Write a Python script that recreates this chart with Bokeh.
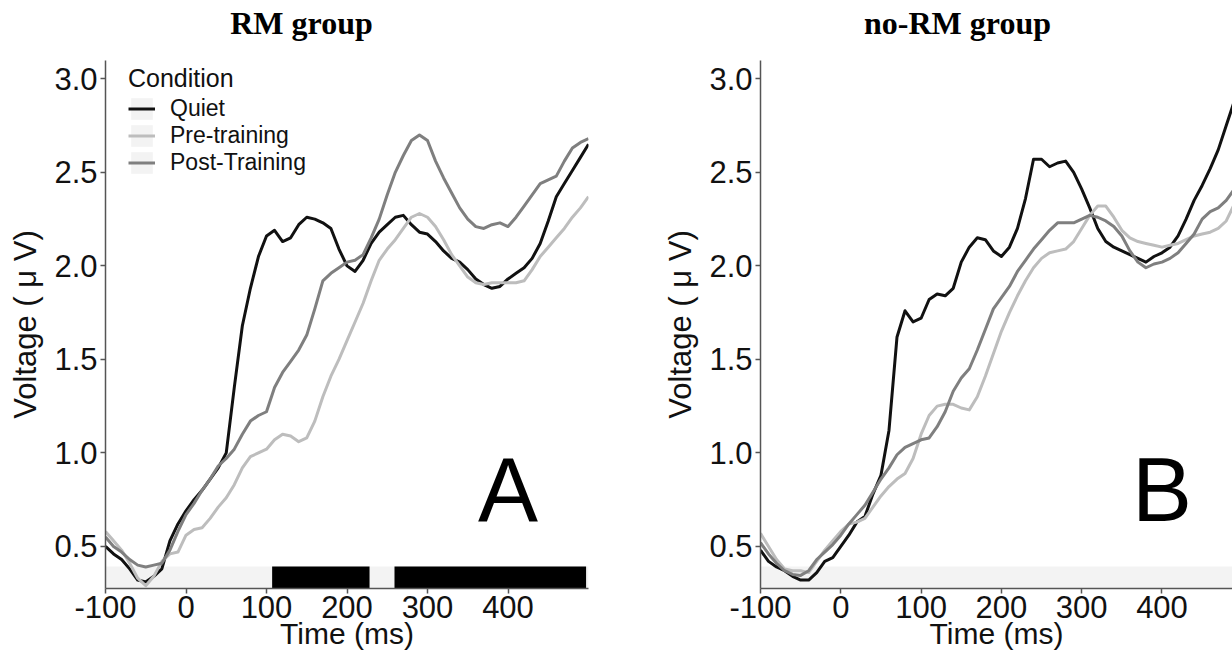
from bokeh.plotting import figure
from bokeh.models import Range1d, FixedTicker, PrintfTickFormatter, Legend, LegendItem
from bokeh.layouts import row, column
from bokeh.embed import file_html
from bokeh.resources import INLINE
from bokeh.core.properties import value

# ---------------- data ----------------
conditions = ["Quiet", "Pre-training", "Post-Training"]
panel_titles = ["RM group", "no-RM group"]
x_ticks = [-100, 0, 100, 200, 300, 400]
y_ticks = [0.5, 1.0, 1.5, 2.0, 2.5, 3.0]

# RM group (panel A), time -100..500 ms every 10 ms
time_rm = list(range(-100, 501, 10))
rm_quiet = [0.50, 0.46, 0.43, 0.38, 0.32, 0.31, 0.34, 0.38, 0.53, 0.62,
            0.69, 0.75, 0.80, 0.86, 0.92, 1.00, 1.35, 1.68, 1.88, 2.05,
            2.16, 2.19, 2.13, 2.15, 2.22, 2.26, 2.25, 2.23, 2.20, 2.09,
            2.00, 1.97, 2.03, 2.12, 2.18, 2.22, 2.26, 2.27, 2.22, 2.18,
            2.17, 2.13, 2.08, 2.04, 2.02, 1.98, 1.93, 1.90, 1.88, 1.89,
            1.93, 1.96, 1.99, 2.04, 2.12, 2.24, 2.37, 2.44, 2.51, 2.58,
            2.65]
rm_pre = [0.58, 0.53, 0.48, 0.41, 0.33, 0.29, 0.34, 0.42, 0.46, 0.47,
          0.56, 0.59, 0.60, 0.65, 0.71, 0.76, 0.83, 0.92, 0.98, 1.00,
          1.02, 1.07, 1.10, 1.09, 1.06, 1.08, 1.17, 1.30, 1.41, 1.50,
          1.60, 1.70, 1.80, 1.92, 2.03, 2.09, 2.14, 2.20, 2.26, 2.28,
          2.26, 2.21, 2.14, 2.06, 2.00, 1.94, 1.91, 1.90, 1.91, 1.91,
          1.91, 1.91, 1.92, 1.98, 2.05, 2.10, 2.15, 2.20, 2.26, 2.31,
          2.37]
rm_post = [0.55, 0.50, 0.47, 0.43, 0.40, 0.39, 0.40, 0.41, 0.48, 0.58,
           0.67, 0.73, 0.80, 0.86, 0.93, 0.97, 1.02, 1.10, 1.17, 1.20,
           1.22, 1.35, 1.43, 1.49, 1.55, 1.63, 1.77, 1.92, 1.96, 1.99,
           2.02, 2.03, 2.06, 2.15, 2.25, 2.38, 2.50, 2.59, 2.67, 2.70,
           2.67, 2.56, 2.47, 2.39, 2.31, 2.25, 2.21, 2.20, 2.22, 2.23,
           2.21, 2.26, 2.32, 2.38, 2.44, 2.46, 2.48, 2.56, 2.63, 2.66,
           2.68]

# no-RM group (panel B), time -100..490 ms every 10 ms
time_norm = list(range(-100, 491, 10))
norm_quiet = [0.48, 0.42, 0.39, 0.37, 0.34, 0.32, 0.32, 0.36, 0.42, 0.44,
              0.50, 0.56, 0.63, 0.66, 0.78, 0.88, 1.12, 1.62, 1.76, 1.70,
              1.72, 1.82, 1.85, 1.84, 1.88, 2.02, 2.10, 2.15, 2.14, 2.08,
              2.05, 2.10, 2.20, 2.36, 2.57, 2.57, 2.53, 2.55, 2.56, 2.50,
              2.41, 2.31, 2.20, 2.13, 2.10, 2.08, 2.06, 2.04, 2.02, 2.05,
              2.07, 2.10, 2.16, 2.25, 2.35, 2.43, 2.52, 2.62, 2.75, 2.88]
norm_pre = [0.57, 0.50, 0.43, 0.38, 0.37, 0.37, 0.36, 0.42, 0.48, 0.53,
            0.58, 0.62, 0.63, 0.65, 0.71, 0.77, 0.82, 0.86, 0.89, 0.97,
            1.10, 1.20, 1.25, 1.26, 1.26, 1.24, 1.23, 1.30, 1.41, 1.53,
            1.65, 1.75, 1.84, 1.92, 1.99, 2.04, 2.07, 2.08, 2.09, 2.13,
            2.20, 2.27, 2.32, 2.32, 2.26, 2.19, 2.15, 2.13, 2.12, 2.11,
            2.10, 2.11, 2.12, 2.14, 2.16, 2.17, 2.18, 2.20, 2.24, 2.33]
norm_post = [0.52, 0.46, 0.41, 0.37, 0.35, 0.345, 0.37, 0.43, 0.47, 0.51,
             0.56, 0.62, 0.67, 0.72, 0.79, 0.86, 0.92, 0.99, 1.03, 1.05,
             1.07, 1.08, 1.14, 1.22, 1.33, 1.40, 1.45, 1.55, 1.66, 1.77,
             1.83, 1.89, 1.97, 2.03, 2.09, 2.14, 2.19, 2.23, 2.23, 2.23,
             2.25, 2.27, 2.26, 2.24, 2.21, 2.16, 2.08, 2.02, 1.99, 2.01,
             2.02, 2.04, 2.07, 2.12, 2.17, 2.25, 2.29, 2.31, 2.35, 2.41]

# baseline strip and significant intervals (ms)
strip_start = [-100]
strip_end = [500]
strip_low = [0.275]
strip_high = [0.392]
sig_start = [107, 259]
sig_end = [228, 497]

# ---------------- style ----------------
line_colors = ["#111111", "#bdbdbd", "#7f7f7f"]
SANS = "Liberation Sans"
SERIF = "Liberation Serif"
AXIS_COL = "#555555"
TITLE_H = 60


def make_title(text, width, center_x):
    t = figure(width=width, height=TITLE_H, x_range=Range1d(0, width),
               y_range=Range1d(0, TITLE_H), output_backend="svg",
               toolbar_location=None, min_border=0)
    t.axis.visible = False
    t.grid.visible = False
    t.outline_line_color = None
    t.text(x=[center_x], y=[38], text=[text], text_font=value(SERIF),
           text_font_size="32px", text_font_style="bold",
           text_align="center", text_baseline="middle", text_color="black")
    return t


def make_panel(t, series, x_end, width, b_left, b_right, letter, legend, sig):
    p = figure(width=width, height=600,
               x_range=Range1d(-100, x_end), y_range=Range1d(0.275, 3.098),
               output_backend="svg", toolbar_location=None,
               min_border_left=b_left, min_border_right=b_right,
               min_border_top=0, min_border_bottom=72)
    p.outline_line_color = None
    p.grid.visible = False
    p.background_fill_color = "white"
    p.border_fill_color = "white"

    strip = p.quad(left=strip_start, right=strip_end, bottom=strip_low,
                   top=strip_high, fill_color="#f3f3f3", line_color=None)
    if sig:
        p.quad(left=sig_start, right=sig_end,
               bottom=[strip_low[0]] * len(sig_start),
               top=[strip_high[0]] * len(sig_start),
               fill_color="black", line_color=None)

    rends = []
    for ys, col in zip(series, line_colors):
        r = p.line(t, ys, line_color=col, line_width=3, line_join="round")
        rends.append(r)

    p.text(x=[400], y=[0.80], text=[letter], text_font=value(SANS),
           text_font_size="90px", text_align="center",
           text_baseline="middle", text_color="black")

    for ax in (p.xaxis[0], p.yaxis[0]):
        ax.axis_line_color = AXIS_COL
        ax.axis_line_width = 1.5
        ax.major_tick_line_color = AXIS_COL
        ax.major_tick_line_width = 1.5
        ax.major_tick_in = 0
        ax.major_tick_out = 5
        ax.minor_tick_line_color = None
        ax.major_label_text_font = SANS
        ax.major_label_text_font_size = "31px"
        ax.major_label_text_color = "#111111"
        ax.axis_label_text_font = SANS
        ax.axis_label_text_font_style = "normal"
        ax.axis_label_text_color = "#111111"

    p.xaxis.ticker = FixedTicker(ticks=x_ticks)
    p.xaxis.formatter = PrintfTickFormatter(format="%d")
    p.xaxis.axis_label = "Time (ms)"
    p.xaxis.axis_label_text_font_size = "30px"
    p.xaxis.major_label_standoff = 2
    p.xaxis.axis_label_standoff = -4

    p.yaxis.ticker = FixedTicker(ticks=y_ticks)
    p.yaxis.formatter = PrintfTickFormatter(format="%.1f")
    p.yaxis.axis_label = "Voltage ( \u03bc V)"
    p.yaxis.axis_label_text_font_size = "31px"
    p.yaxis.major_label_standoff = 3
    p.yaxis.axis_label_standoff = 8

    if legend:
        items = [LegendItem(label=lab, renderers=[strip, r], index=0)
                 for lab, r in zip(conditions, rends)]
        lg = Legend(items=items, location=(23, 412), title="Condition",
                    title_text_font=SANS, title_text_font_size="25px",
                    title_text_font_style="normal", title_text_color="#111111",
                    title_standoff=2,
                    label_text_font=SANS, label_text_font_size="23px",
                    label_text_color="#111111",
                    glyph_width=27, glyph_height=27, label_height=27,
                    label_standoff=15, spacing=0, padding=0, margin=0,
                    border_line_color=None, background_fill_alpha=0)
        p.add_layout(lg)
    return p


t1 = make_title(panel_titles[0], 620, 301)
t2 = make_title(panel_titles[1], 612, 337)
p1 = make_panel(time_rm, [rm_quiet, rm_pre, rm_post],
                500, 620, 105, 32, "A", True, True)
p2 = make_panel(time_norm, [norm_quiet, norm_pre, norm_post],
                487.8, 612, 140, 0, "B", False, False)

layout = column(row(t1, t2), row(p1, p2))
open("out.html", "w").write(file_html(layout, INLINE))
